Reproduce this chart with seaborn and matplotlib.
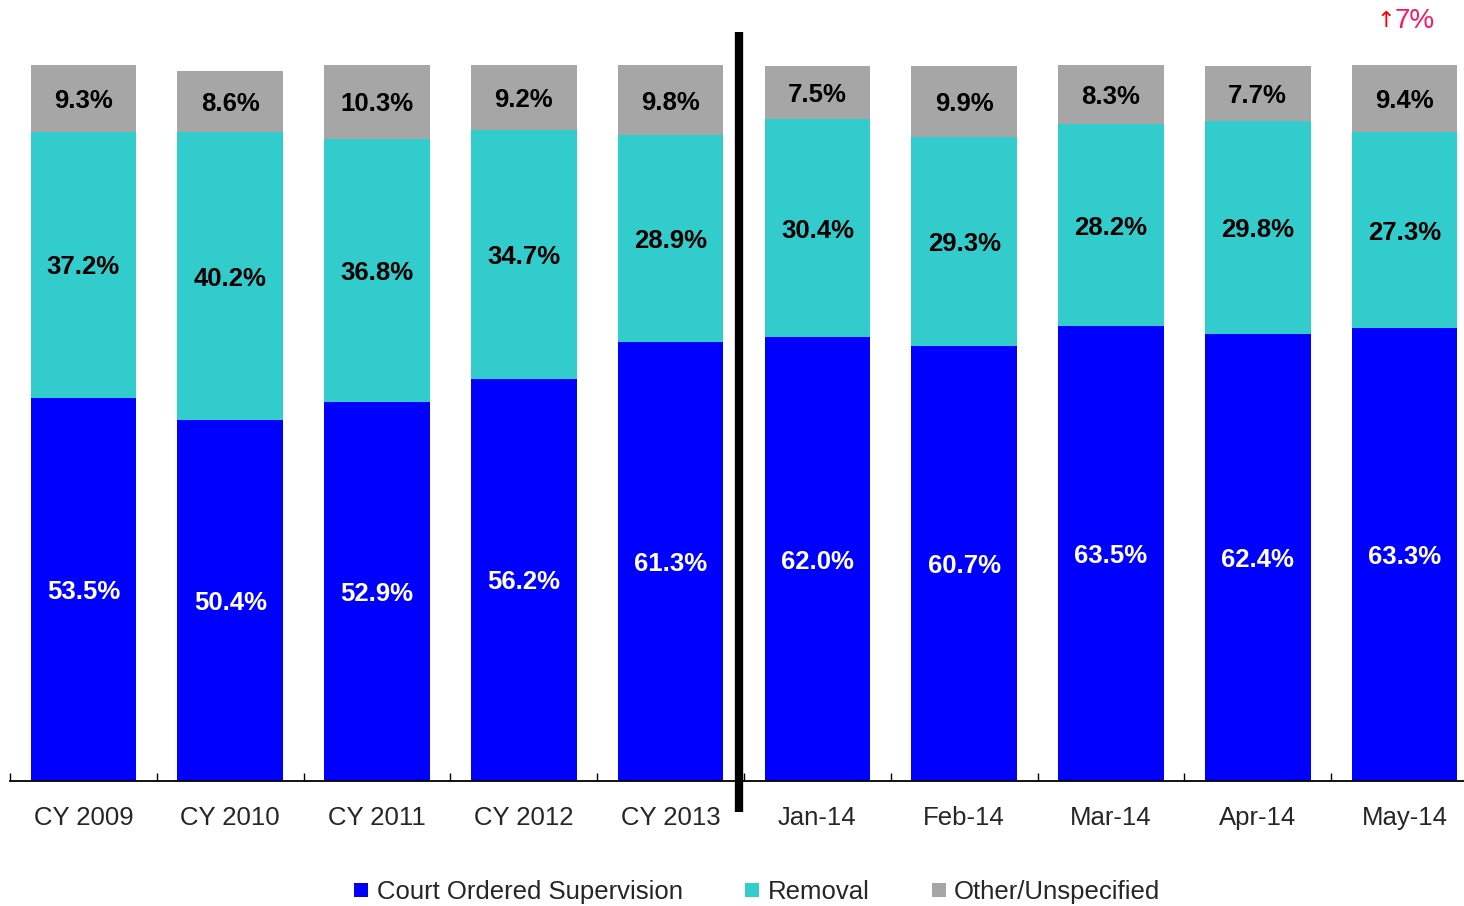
import numpy as np
import seaborn as sns
import matplotlib.pyplot as plt
from matplotlib.lines import Line2D

# data
periods = ["CY 2009", "CY 2010", "CY 2011", "CY 2012", "CY 2013",
           "Jan-14", "Feb-14", "Mar-14", "Apr-14", "May-14"]
court = [53.5, 50.4, 52.9, 56.2, 61.3, 62.0, 60.7, 63.5, 62.4, 63.3]
removal = [37.2, 40.2, 36.8, 34.7, 28.9, 30.4, 29.3, 28.2, 29.8, 27.3]
other = [9.3, 8.6, 10.3, 9.2, 9.8, 7.5, 9.9, 8.3, 7.7, 9.4]
series_names = ["Court Ordered Supervision", "Removal", "Other/Unspecified"]
colors = ["#0000FF", "#33CCCC", "#A6A6A6"]

sns.set_style("white")
plt.rcParams["font.family"] = ["Liberation Sans", "DejaVu Sans"]

fig = plt.figure(figsize=(14.64, 9.06), dpi=100)
ax = fig.add_axes([10 / 1464, 125 / 906, 1468 / 1464, 716 / 906])

c = np.array(court)
r = np.array(removal)
o = np.array(other)
totals = c + r + o
mid = c + r

# stacked bars: draw the cumulative heights from tallest to shortest
sns.barplot(x=periods, y=totals, color=colors[2], saturation=1, width=0.72,
            linewidth=0, ax=ax)
sns.barplot(x=periods, y=mid, color=colors[1], saturation=1, width=0.72,
            linewidth=0, ax=ax)
sns.barplot(x=periods, y=court, color=colors[0], saturation=1, width=0.72,
            linewidth=0, ax=ax)

ax.set_xlim(-0.5, 9.5)
ax.set_ylim(0, 100)

for i in range(len(periods)):
    ax.text(i, c[i] / 2, f"{court[i]:.1f}%", ha="center", va="center_baseline",
            fontsize=18.5, fontweight="bold", color="white")
    ax.text(i, c[i] + r[i] / 2, f"{removal[i]:.1f}%", ha="center",
            va="center_baseline", fontsize=18.5, fontweight="bold", color="black")
    ax.text(i, mid[i] + o[i] / 2, f"{other[i]:.1f}%", ha="center",
            va="center_baseline", fontsize=18.5, fontweight="bold", color="black")

# divider between annual and monthly figures
ax.plot([4.466, 4.466], [-4.3, 104.6], color="black", lw=6, clip_on=False,
        solid_capstyle="butt")

# axes styling
for side in ["top", "right", "left"]:
    ax.spines[side].set_visible(False)
ax.spines["bottom"].set_color("black")
ax.spines["bottom"].set_linewidth(1.3)
ax.set_yticks([])
ax.set_xticks(np.arange(-0.5, 10, 1))
ax.set_xticklabels([])
ax.tick_params(axis="x", which="major", direction="in", length=6, width=1,
               color="black", bottom=True)
ax.set_xticks(np.arange(10), minor=True)
ax.set_xticklabels(periods, minor=True)
ax.tick_params(axis="x", which="minor", length=0, pad=18, labelsize=18.5)
ax.set_xlabel("")
ax.set_ylabel("")

# small note in the corner
fig.text(1386 / 1464, 1 - 21 / 906, "\u2191", color="#FF0000", fontsize=16,
         ha="center", va="center", family="DejaVu Sans")
fig.text(1395 / 1464, 1 - 21 / 906, "7%", color="#FF1466", fontsize=20,
         ha="left", va="center")

handles = [Line2D([0], [0], marker="s", linestyle="", markersize=10,
                  markerfacecolor=col, markeredgewidth=0) for col in colors]
fig.legend(handles, series_names, loc="center", ncol=3, frameon=False,
           bbox_to_anchor=(757 / 1464, 14 / 906), fontsize=18.5,
           handlelength=0.6, handletextpad=0.3, columnspacing=2.4)

fig.savefig("out.png", dpi=100)
